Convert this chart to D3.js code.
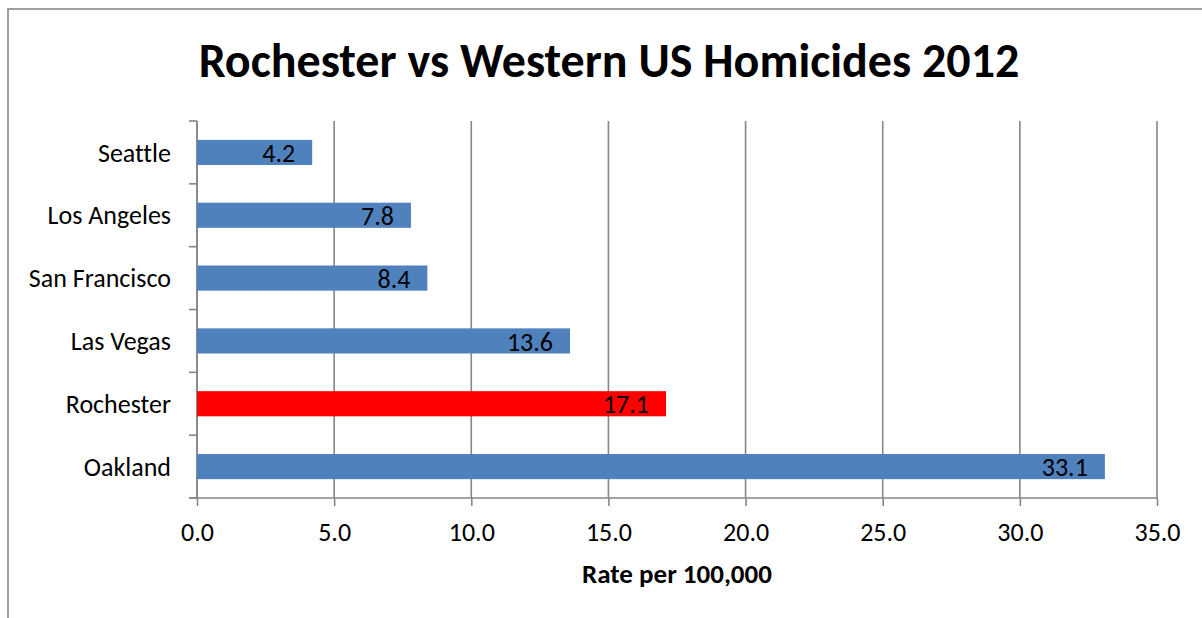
<!DOCTYPE html>
<html>
<head>
<meta charset="utf-8">
<script src="https://cdn.jsdelivr.net/npm/d3@7/dist/d3.min.js"></script>
<style>
  html, body { margin: 0; padding: 0; background: #fff; }
  svg { display: block; }
  text { font-family: Carlito, Calibri, Lato, "Open Sans", sans-serif; fill: #000; font-variant-ligatures: none; }
</style>
</head>
<body>
<svg id="chart" width="1202" height="618"></svg>
<script>
// City homicide rates, 2012 (per 100,000 residents), top to bottom
const cities = ["Seattle", "Los Angeles", "San Francisco", "Las Vegas", "Rochester", "Oakland"];
const rates = [4.2, 7.8, 8.4, 13.6, 17.1, 33.1];
const highlightCity = "Rochester";
const xTicks = [0, 5, 10, 15, 20, 25, 30, 35];
const titleText = "Rochester vs Western US Homicides 2012";
const xAxisTitle = "Rate per 100,000";

const svg = d3.select("#chart");
const W = 1202, H = 618;
const plot = { left: 197, right: 1157, top: 121, bottom: 498 };

const blue = "#4F81BD", red = "#FF0000", gridColor = "#868686";
const labelSize = "26px";

// outer chart frame (continues past the right and bottom edges)
svg.append("rect")
  .attr("x", 8).attr("y", 9)
  .attr("width", W + 20).attr("height", H + 20)
  .attr("fill", "#fff").attr("stroke", "#888").attr("stroke-width", 1.6);

const x = d3.scaleLinear().domain([0, 35]).range([plot.left, plot.right]);
const y = d3.scaleBand().domain(cities).range([plot.top, plot.bottom]).paddingInner(0.6).paddingOuter(0.3);
const yOuter = d3.scaleBand().domain(cities).range([plot.top, plot.bottom]);

// vertical gridlines
svg.append("g")
  .selectAll("line")
  .data(xTicks)
  .join("line")
  .attr("x1", d => x(d)).attr("x2", d => x(d))
  .attr("y1", plot.top).attr("y2", plot.bottom)
  .attr("stroke", gridColor).attr("stroke-width", 1.6);

// x axis
const xAxis = d3.axisBottom(x).tickValues(xTicks).tickFormat(d3.format(".1f")).tickSize(8).tickSizeOuter(0);
const gx = svg.append("g").attr("transform", `translate(0,${plot.bottom})`).call(xAxis);
gx.select(".domain").attr("stroke", gridColor).attr("stroke-width", 1.6)
  .attr("d", `M${plot.left - 8},0H${plot.right}`);
gx.selectAll(".tick line").attr("stroke", gridColor).attr("stroke-width", 1.6);
gx.selectAll(".tick text")
  .attr("y", 43).attr("dy", 0)
  .style("font-size", labelSize).style("font-family", "Carlito, Calibri, Lato, sans-serif").attr("fill", "#000");

// y axis: line with ticks at band edges
const gy = svg.append("g");
gy.append("line")
  .attr("x1", plot.left).attr("x2", plot.left)
  .attr("y1", plot.top).attr("y2", plot.bottom)
  .attr("stroke", gridColor).attr("stroke-width", 1.6);
const edges = cities.map(c => yOuter(c)).concat([plot.bottom]);
gy.selectAll("line.tk")
  .data(edges)
  .join("line").attr("class", "tk")
  .attr("x1", plot.left - 8).attr("x2", plot.left)
  .attr("y1", d => d).attr("y2", d => d)
  .attr("stroke", gridColor).attr("stroke-width", 1.6);
gy.selectAll("text")
  .data(cities)
  .join("text")
  .attr("x", plot.left - 26)
  .attr("y", d => yOuter(d) + yOuter.bandwidth() / 2)
  .attr("dy", "0.35em")
  .attr("text-anchor", "end")
  .style("font-size", labelSize)
  .text(d => d);

// bars
svg.append("g")
  .selectAll("rect")
  .data(cities)
  .join("rect")
  .attr("x", x(0))
  .attr("y", d => y(d))
  .attr("width", (d, i) => x(rates[i]) - x(0))
  .attr("height", y.bandwidth())
  .attr("fill", d => d === highlightCity ? red : blue);

// value labels, inside end
svg.append("g")
  .selectAll("text")
  .data(cities)
  .join("text")
  .attr("x", (d, i) => x(rates[i]) - 17)
  .attr("y", d => y(d) + y.bandwidth() / 2)
  .attr("dy", "0.37em")
  .attr("text-anchor", "end")
  .style("font-size", labelSize)
  .text((d, i) => d3.format(".1f")(rates[i]));

// title
svg.append("text")
  .attr("x", 609).attr("y", 77)
  .attr("text-anchor", "middle")
  .style("font-size", "48px").style("font-weight", "bold")
  .text(titleText);

// x axis title
svg.append("text")
  .attr("x", 677).attr("y", 583)
  .attr("text-anchor", "middle")
  .style("font-size", "27px").style("font-weight", "bold")
  .text(xAxisTitle);
</script>
</body>
</html>
